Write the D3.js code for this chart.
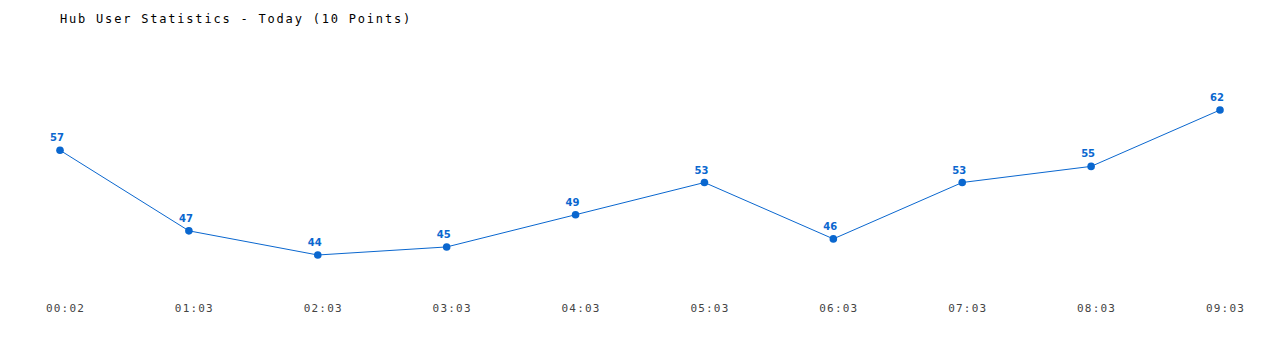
<!DOCTYPE html>
<html><head><meta charset="utf-8">
<script src="https://cdn.jsdelivr.net/npm/d3@7"></script>
<style>body{margin:0;background:#fff}</style>
</head><body>
<svg id="c" width="1280" height="350"></svg>
<script>
const title = "Hub User Statistics - Today (10 Points)";
const categories = ["00:02","01:03","02:03","03:03","04:03","05:03","06:03","07:03","08:03","09:03"];
const values = [57,47,44,45,49,53,46,53,55,62];

const svg = d3.select("#c");
const x = d3.scalePoint().domain(categories).range([60, 1220]);
const y = d3.scaleLinear().domain([44, 62]).range([255, 110]);
const blue = "#0a67cf";

svg.append("text").attr("x", 60).attr("y", 23)
  .attr("font-family", "DejaVu Sans Mono").attr("font-size", 12).attr("letter-spacing", 1.8)
  .attr("fill", "#000").text(title);

const xAxis = d3.axisBottom(x).tickSize(0).tickPadding(0);
const gx = svg.append("g").attr("transform", "translate(5,304)").call(xAxis);
gx.select(".domain").remove();
gx.selectAll("text").attr("font-family", "DejaVu Sans Mono").attr("font-size", 11)
  .attr("letter-spacing", 1.2).attr("fill", "#444");

const line = d3.line().x((d,i)=>x(categories[i])).y(d=>y(d));
svg.append("path").datum(values).attr("d", line).attr("fill","none")
  .attr("stroke", blue).attr("stroke-width", 1);

svg.selectAll("circle.pt").data(values).join("circle").attr("class","pt")
  .attr("cx",(d,i)=>x(categories[i])).attr("cy",d=>y(d)).attr("r",3.8).attr("fill",blue);

svg.selectAll("text.lbl").data(values).join("text").attr("class","lbl")
  .attr("x",(d,i)=>x(categories[i])-3).attr("y",d=>y(d)-9)
  .attr("text-anchor","middle").attr("font-family","DejaVu Sans").attr("font-weight","bold")
  .attr("font-size",10).attr("fill",blue).text(d=>d);
</script>
</body></html>
